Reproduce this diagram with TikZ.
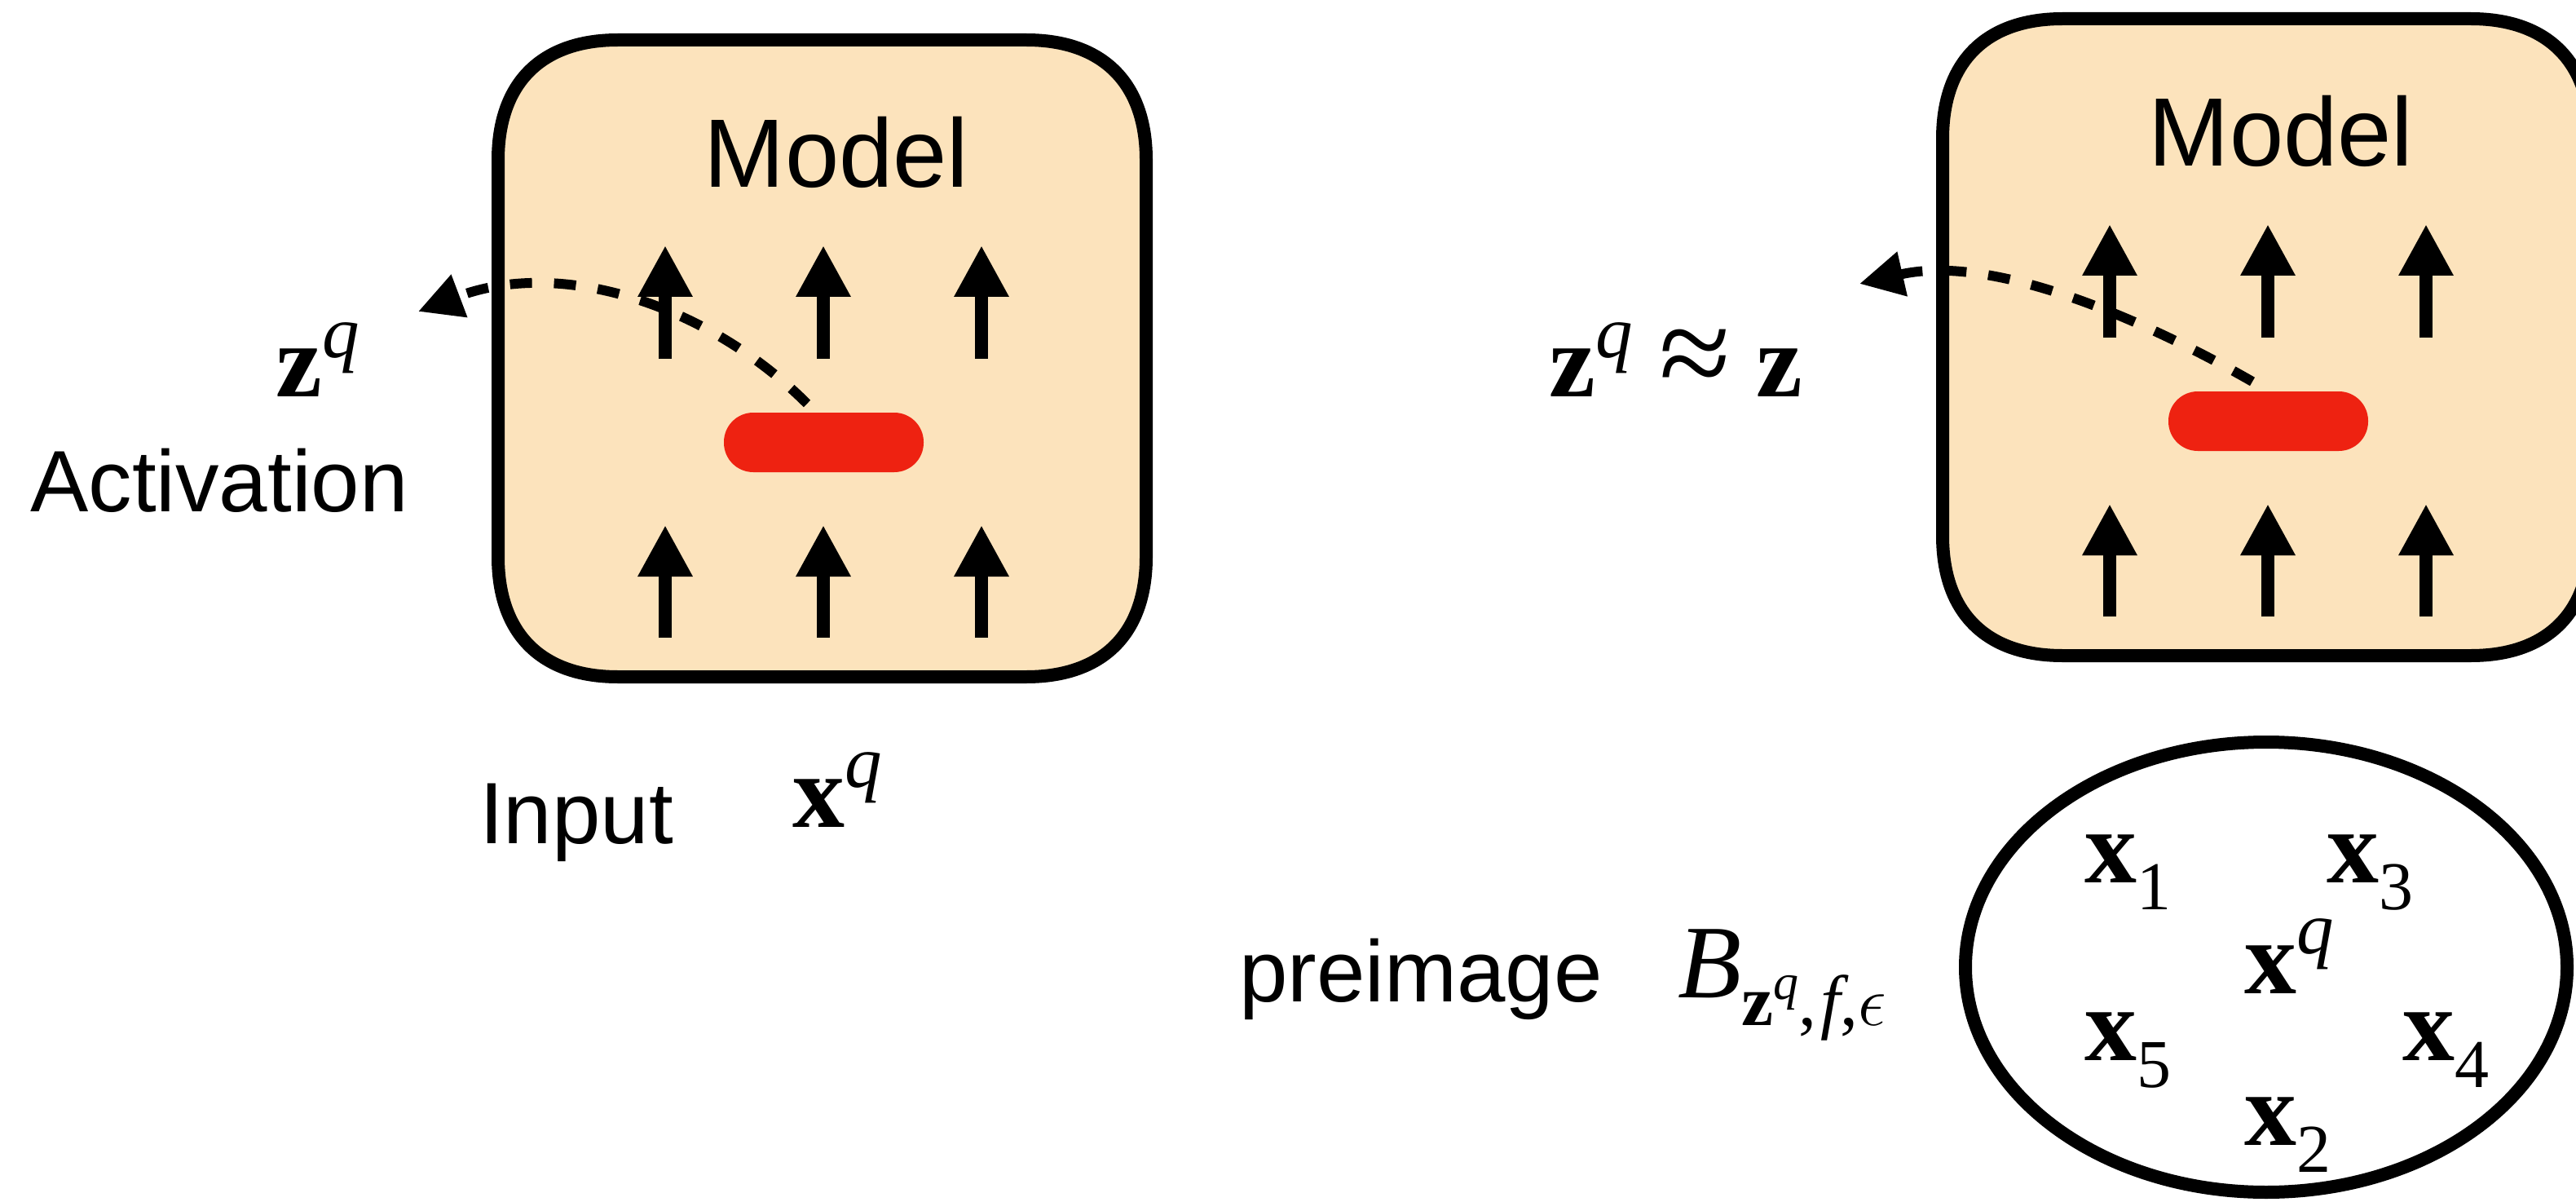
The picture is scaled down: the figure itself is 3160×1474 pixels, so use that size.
\documentclass[tikz,border=0pt]{standalone}
\usepackage{fontspec}
\usepackage{graphicx}
\setmainfont{Liberation Sans}
\newfontfamily\tms{Liberation Serif}
\usetikzlibrary{arrows.meta,shapes.geometric}
\definecolor{peach}{RGB}{252,227,188}
\definecolor{pillred}{RGB}{238,34,17}
\newcommand\vb[1]{{\tms\bfseries #1}}
\newcommand\spq[1]{\raisebox{0.38em}{\fontsize{25.9}{26}\selectfont\tms\itshape #1}}
\newcommand\sbd[1]{\raisebox{-0.26em}{\fontsize{23.9}{24}\selectfont\tms #1}}
\tikzset{
  boxsty/.style={draw=black, line width=1.6mm, fill=peach},
  pillsty/.style={fill=pillred, draw=none, rounded corners=3.6mm, minimum width=24.5mm, minimum height=7.3mm, inner sep=0pt},
  uparrow/.style={line width=1.55mm, -{Triangle[length=6.3mm,width=6.3mm]}},
  dcurve/.style={line width=1.2mm, dash pattern=on 2.7mm off 2.7mm, -{Triangle[length=5.4mm,width=5.3mm]}},
  modelfont/.style={font=\fontsize{33.9}{40}\selectfont, inner sep=0pt},
  lblfont/.style={font=\fontsize{30.4}{36}\selectfont, inner sep=0pt},
  mathfont/.style={font=\fontsize{36.4}{40}\selectfont\tms, inner sep=0pt},
  ellsty/.style={ellipse, draw=black, line width=1.6mm, minimum width=73.8mm, minimum height=55.2mm, inner sep=0pt},
}
\newcommand\panelbody{%
  \node[inner sep=0pt, minimum width=79.5mm, minimum height=78.1mm] (box) at (1008.5,439.5) {};
  \path[boxsty] (611,196) .. controls (611,102) and (664,49) .. (758,49)
     -- (1259,49) .. controls (1353,49) and (1406,102) .. (1406,196)
     -- (1406,683) .. controls (1406,777) and (1353,830) .. (1259,830)
     -- (758,830) .. controls (664,830) and (611,777) .. (611,683) -- cycle;
  \foreach \i/\x in {1/816,2/1010,3/1204}{
    \coordinate (ub\i) at (\x,440);
    \coordinate (ut\i) at (\x,301);
    \coordinate (lb\i) at (\x,782);
    \coordinate (lt\i) at (\x,644);
    \draw[uparrow] (ub\i) -- (ut\i);
    \draw[uparrow] (lb\i) -- (lt\i);
  }
  \node[pillsty] (pill) at (1010.5,542.5) {};
  \node[modelfont, anchor=base] (model) at (1026,230) {Model};
}
\begin{document}
\begin{tikzpicture}[x=0.1mm,y=-0.1mm]
\useasboundingbox (0,0) rectangle (3160,1474);
\clip (0,0) rectangle (3160,1474);
\begin{scope}[name prefix=L-]
  \panelbody
\end{scope}
\begin{scope}[shift={(1772,-26)}, name prefix=R-]
  \panelbody
\end{scope}
% dashed read-out curves
\coordinate (L-s) at (990,495);
\coordinate (L-e) at (513,382);
\draw[dcurve] (L-s) .. controls (870,375) and (690,315) .. (L-e);
\coordinate (R-s) at (2763,468);
\coordinate (R-e) at (2281,348);
\draw[dcurve] (R-s) .. controls (2652,404) and (2452,309) .. (R-e);
% left labels
\node[mathfont, anchor=base west] (zq) at (338,487) {\vb{z}\spq{q}};
\node[lblfont, anchor=base] (act) at (269,627) {Activation};
\node[lblfont, anchor=base] (inp) at (707,1034) {Input};
\node[mathfont, anchor=base west] (xq) at (972,1014) {\vb{x}\spq{q}};
% right labels
\node[mathfont, anchor=base west] (zz) at (1900,487) {\vb{z}\spq{q}\hspace{3.2mm}\scalebox{1.25}{≈}\hspace{3.2mm}\vb{z}};
\node[lblfont, anchor=base] (pre) at (1743,1228) {preimage};
\node[mathfont, anchor=base west] (B) at (2058,1223) {{\itshape B}\raisebox{-0.27em}{\fontsize{25}{26}\selectfont\tms{\bfseries z}\raisebox{0.36em}{\fontsize{17.6}{18}\selectfont\itshape q},\kern0.05em{\itshape f},$\epsilon$}};
\node[ellsty] (ell) at (2780,1186) {};
\node[mathfont, anchor=base west] (x1) at (2557,1082) {\vb{x}\sbd{1}};
\node[mathfont, anchor=base west] (x3) at (2854,1082) {\vb{x}\sbd{3}};
\node[mathfont, anchor=base west] (xq2) at (2753,1218) {\vb{x}\spq{q}};
\node[mathfont, anchor=base west] (x5) at (2557,1300) {\vb{x}\sbd{5}};
\node[mathfont, anchor=base west] (x4) at (2947,1300) {\vb{x}\sbd{4}};
\node[mathfont, anchor=base west] (x2) at (2753,1404) {\vb{x}\sbd{2}};
\end{tikzpicture}
\end{document}
